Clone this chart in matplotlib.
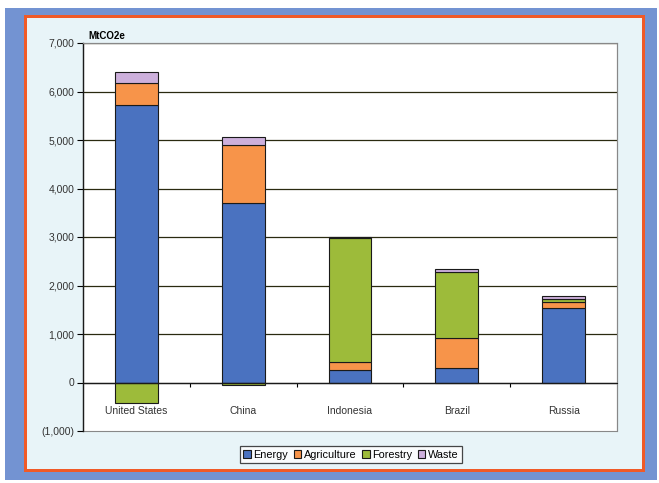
import matplotlib
matplotlib.use("Agg")
import matplotlib.pyplot as plt
from matplotlib.patches import Rectangle
import numpy as np

plt.rcParams['font.family'] = ['Liberation Sans', 'DejaVu Sans']

countries = ["United States", "China", "Indonesia", "Brazil", "Russia"]
energy = [5730, 3700, 250, 290, 1540]
agriculture = [440, 1190, 170, 620, 120]
forestry = [-430, -60, 2550, 1370, 60]
waste = [230, 180, 20, 65, 60]
yticks = [-1000, 0, 1000, 2000, 3000, 4000, 5000, 6000, 7000]
yticklabels = ["(1,000)", "0", "1,000", "2,000", "3,000", "4,000", "5,000", "6,000", "7,000"]

series = [("Energy", energy, "#4a72c0"),
          ("Agriculture", agriculture, "#f7944a"),
          ("Forestry", forestry, "#9dbb3a"),
          ("Waste", waste, "#cdb0dc")]

fig = plt.figure(figsize=(6.59, 4.83), dpi=100)
fig.patch.set_facecolor("white")
W, H = 659, 483
def frect(x0, y0, x1, y1, **kw):
    fig.patches.append(Rectangle((x0 / W, 1 - y1 / H), (x1 - x0) / W, (y1 - y0) / H,
                                 transform=fig.transFigure, zorder=-5, **kw))
frect(5, 8, 657, 480, facecolor="#7393d2", edgecolor="none")
frect(24, 15, 645, 472, facecolor="#f05a28", edgecolor="none")
frect(27, 18, 642, 469, facecolor="#e8f4f8", edgecolor="none")

ax = fig.add_axes([83 / W, 1 - 431 / H, (617 - 83) / W, (431 - 43) / H])
ax.set_facecolor("white")
x = np.arange(len(countries))
pos_bottom = np.zeros(len(countries))
neg_bottom = np.zeros(len(countries))
handles = []
for name, vals, col in series:
    vals = np.array(vals, dtype=float)
    bottoms = np.where(vals >= 0, pos_bottom, neg_bottom)
    b = ax.bar(x, vals, width=0.4, bottom=bottoms, color=col, edgecolor="#1a1a1a",
               linewidth=0.8, label=name, zorder=3)
    handles.append(b)
    pos_bottom = pos_bottom + np.where(vals >= 0, vals, 0)
    neg_bottom = neg_bottom + np.where(vals < 0, vals, 0)

ax.set_xlim(-0.5, len(countries) - 0.5)
ax.set_ylim(-1000, 7000)
for yv in yticks[2:]:
    ax.axhline(yv, color="#2a2a10", linewidth=0.9, zorder=1)
ax.axhline(0, color="#1a1a1a", linewidth=1.0, zorder=4)

ax.set_yticks(yticks)
ax.set_yticklabels(yticklabels, fontsize=7.5, color="#333333")
ax.tick_params(axis="y", length=4, width=0.8, direction="out", pad=2)

ax.spines['bottom'].set_position(('data', 0))
ax.spines['bottom'].set_color("#1a1a1a")
ax.spines['left'].set_color("#1a1a1a")
ax.spines['left'].set_linewidth(1.0)
ax.spines['top'].set_color("#888888")
ax.spines['right'].set_color("#888888")
ax.add_patch(Rectangle((0, 0), 1, 1, transform=ax.transAxes, fill=False,
                       edgecolor="#888888", linewidth=0.8, zorder=0, clip_on=False))
ax.set_xticks(x)
ax.set_xticklabels(countries, fontsize=7.5, color="#333333")
ax.tick_params(axis="x", which="major", length=0, pad=17)
ax.set_xticks(np.arange(0.5, len(countries) - 0.5, 1), minor=True)
ax.tick_params(axis="x", which="minor", length=3, width=0.8, direction="out")

ax.text(0.01, 1.005, "MtCO2e", transform=ax.transAxes, fontsize=7, fontweight="bold",
        ha="left", va="bottom")

leg = fig.legend(handles=handles, loc="center", bbox_to_anchor=(351 / W, 1 - 454.5 / H),
                 ncol=4, fontsize=7.8, frameon=True, fancybox=False, handlelength=0.7,
                 handleheight=0.7, handletextpad=0.25, columnspacing=0.5,
                 borderpad=0.3, borderaxespad=0)
leg.get_frame().set_edgecolor("#1a1a1a")
leg.get_frame().set_linewidth(0.9)
leg.get_frame().set_facecolor("white")

fig.savefig("out.png", dpi=100)
